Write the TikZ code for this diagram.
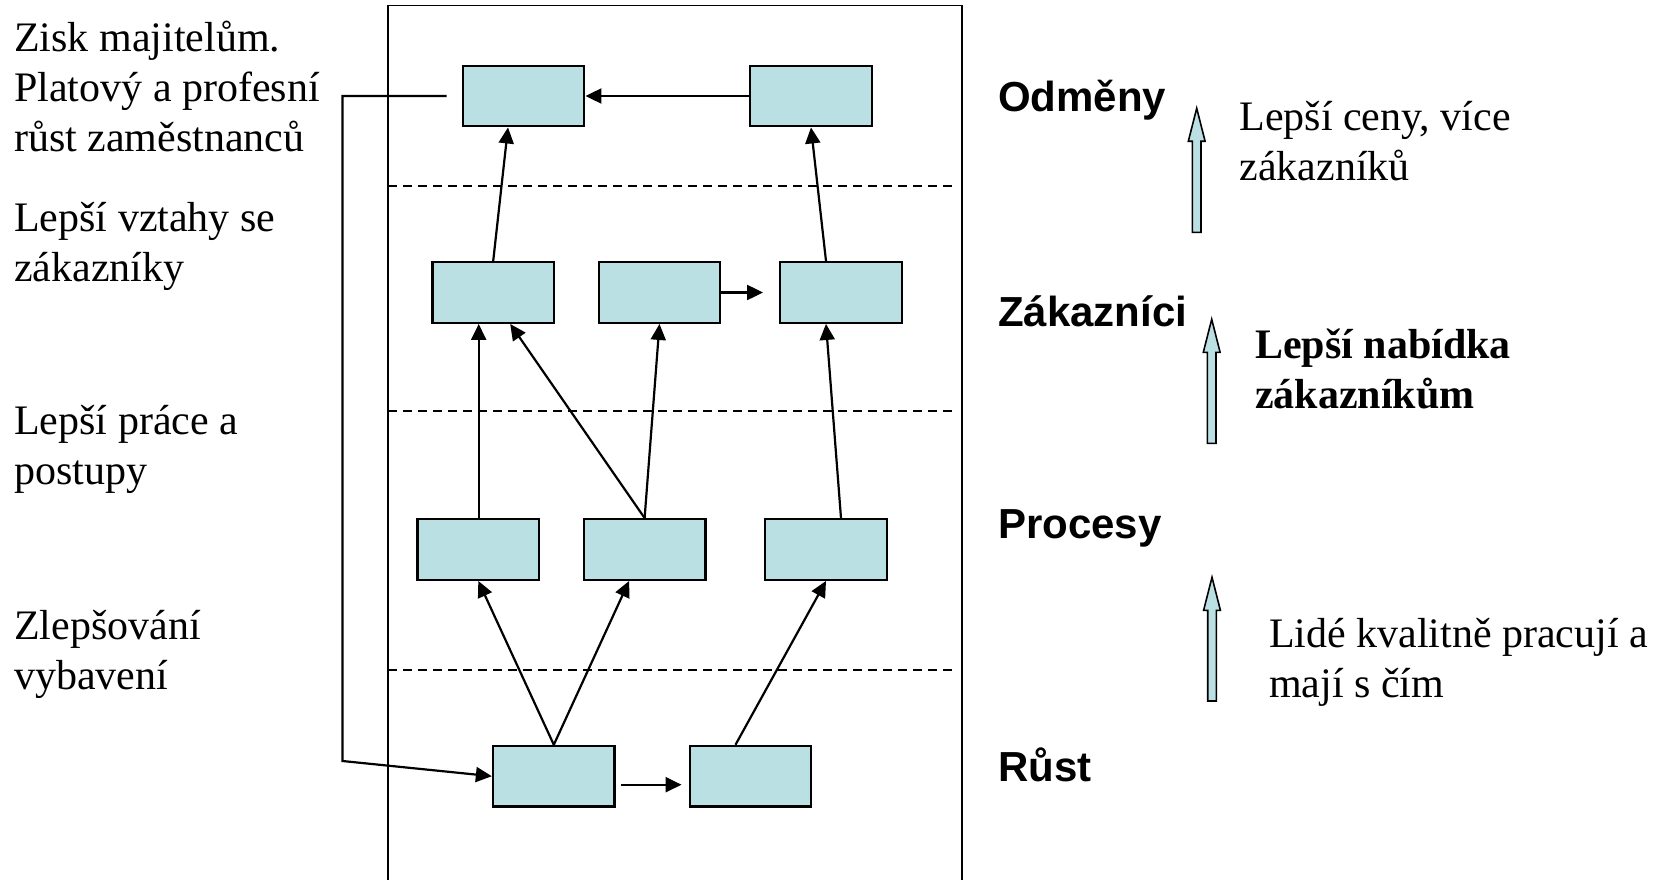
\documentclass[tikz,border=0pt]{standalone}
\usepackage{fontspec}
\setmainfont{Liberation Serif}
\newfontfamily\lsans{Liberation Sans}
\usetikzlibrary{arrows.meta,calc}
\definecolor{boxfill}{RGB}{187,224,227}
\tikzset{
  box/.style={draw, line width=2.4pt, fill=boxfill, minimum width=121.5pt, minimum height=60.5pt, inner sep=0pt},
  conn/.style={line width=2.2pt, -{Triangle[length=16pt,width=15pt]}},
  txt/.style={anchor=base west, inner sep=0pt, align=left, font=\fontsize{42}{50}\selectfont},
  boldtxt/.style={txt, font=\fontsize{42}{50}\selectfont\bfseries},
  lbl/.style={anchor=base west, inner sep=0pt, font=\lsans\bfseries\fontsize{42}{50}\selectfont},
  sepline/.style={dash pattern=on 9pt off 6pt, line width=1.6pt},
  frameline/.style={line width=1.8pt},
  fatarrow/.style={draw, line width=1.6pt, fill=boxfill, line join=miter},
}
\newcommand\blockup[3]{% x, tip y, bottom y
  \draw[fatarrow] (#1-4.3,#3) -- (#1-4.3,#2+33) -- (#1-8.4,#2+33) -- (#1,#2)
    -- (#1+8.4,#2+33) -- (#1+4.3,#2+33) -- (#1+4.3,#3) -- cycle;}
\begin{document}
\begin{tikzpicture}[x=1pt,y=-1pt]
\useasboundingbox (0,0) rectangle (1675,880);
% frame
\draw[frameline] (388,882) -- (388,5.5) -- (962,5.5) -- (962,882);
% separators
\draw[sepline] (388,186) -- (956,186);
\draw[sepline] (388,411) -- (956,411);
\draw[sepline] (388,670) -- (956,670);
% boxes
\node[box] (A1) at (523.5,96) {};
\node[box] (A2) at (811,96) {};
\node[box] (B1) at (493.2,292.5) {};
\node[box] (B2) at (659.5,292.5) {};
\node[box] (B3) at (841,292.5) {};
\node[box] (C1) at (478.3,549.5) {};
\node[box] (C2) at (644.6,549.5) {};
\node[box] (C3) at (826,549.5) {};
\node[box] (D1) at (553.8,776.2) {};
\node[box] (D2) at (750.5,776.2) {};
% connectors
\draw[conn] (A2.west) -- (A1.east);
\draw[conn] (B1.north) -- ($(A1.south)+(-15.5,0)$);
\draw[conn] ($(B3.north)+(-15,0)$) -- (A2.south);
\draw[conn] (B2.east) -- ($(B3.west)+(-16,0)$);
\draw[conn] ($(C1.north)+(0.4,0)$) -- ($(B1.south)+(-14.5,0)$);
\draw[conn] (C2.north) -- ($(B1.south)+(17,0)$);
\draw[conn] (C2.north) -- (B2.south);
\draw[conn] ($(C3.north)+(15,0)$) -- ($(B3.south)+(-15,0)$);
\draw[conn] (D1.north) -- (C1.south);
\draw[conn] (D1.north) -- ($(C2.south)+(-15.5,0)$);
\draw[conn] ($(D2.north)+(-15,0)$) -- (C3.south);
\draw[conn] ($(D1.east)+(5,8.5)$) -- ($(D2.west)+(-7,8.5)$);
\coordinate (fbA) at ($(A1.west)+(-15,0)$);
\coordinate (fbB) at (342.5,96);
\coordinate (fbC) at (342.5,761);
\draw[conn] (fbA) -- (fbB) -- (fbC) -- (D1.west);
% left texts (anchor at baseline of last line)
\node[txt] (t1) at (14,151.7) {Zisk majitelům.\\Platový a profesní\\růst zaměstnanců};
\node[txt] (t2) at (14,281) {Lepší vztahy se\\zákazníky};
\node[txt] (t3) at (14,484.5) {Lepší práce a\\postupy};
\node[txt] (t4) at (14,689) {Zlepšování\\vybavení};
% right labels
\node[lbl] (l1) at (998,111.7) {Odměny};
\node[lbl] (l2) at (998,326.7) {Zákazníci};
\node[lbl] (l3) at (998,538.3) {Procesy};
\node[lbl] (l4) at (998,781.7) {Růst};
% block arrows
\blockup{1196.7}{108.3}{232.3}
\blockup{1211.7}{319.3}{443.3}
\blockup{1212}{577.3}{701}
% right texts
\node[txt] (r1) at (1239.3,180.5) {Lepší ceny, více\\zákazníků};
\node[boldtxt] (r2) at (1255,408) {Lepší nabídka\\zákazníkům};
\node[txt] (r3) at (1268.8,697) {Lidé kvalitně pracují a\\mají s čím};
\end{tikzpicture}
\end{document}
